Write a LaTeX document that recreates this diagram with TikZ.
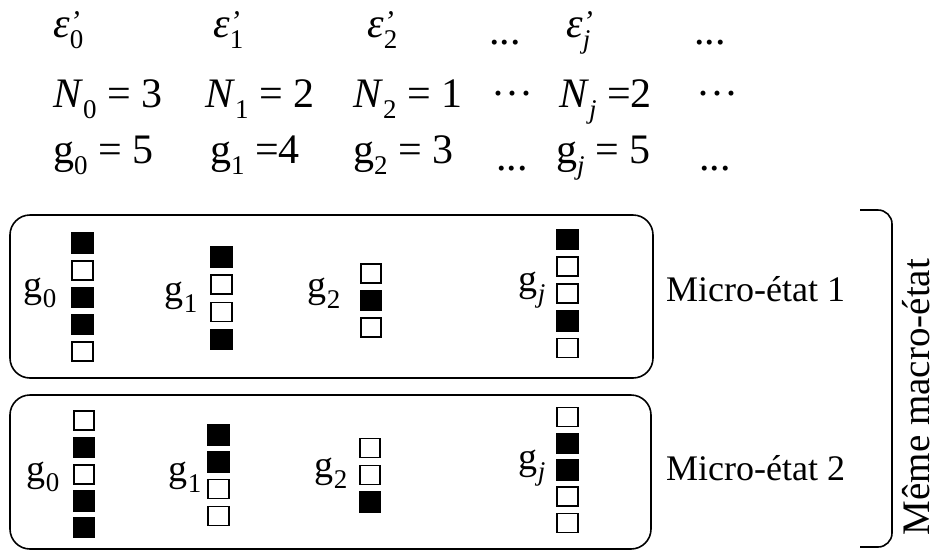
\documentclass[tikz,border=0pt]{standalone}
\usepackage{fontspec}
\setmainfont{Liberation Serif}
\newcommand\lo[1]{\raisebox{-0.28em}{\fontsize{27}{30}\selectfont #1}}
\newcommand\eps[1]{\textit{ε}\rlap{\raisebox{6pt}{\fontsize{30}{30}\selectfont\textit{’}}}\lo{#1}}
\newcommand\cellcol[5]{%
  \foreach \s [count=\i] in {#5} {%
    \ifnum\s=1 \node[cellB] (#1-\i) at (#2,{#3+#4*(\i-1)}) {};%
    \else \node[cellW] (#1-\i) at (#2,{#3+#4*(\i-1)}) {};\fi}}
\begin{document}
\begin{tikzpicture}[x=1pt,y=-1pt,
  big/.style={inner sep=0, font=\fontsize{38}{40}\selectfont},
  row/.style={inner sep=0, font=\fontsize{42}{44}\selectfont, anchor=base west},
  micro/.style={inner sep=0, font=\fontsize{36}{40}\selectfont, anchor=west},
  cellB/.style={draw=black, fill=black, line width=1.4, minimum width=21.5, minimum height=20, inner sep=0},
  cellW/.style={draw=black, fill=white, line width=1.8, minimum width=20.5, minimum height=19, inner sep=0},
  stbox/.style={draw=black, line width=1.6, rounded corners=20, inner sep=0}]
\useasboundingbox (0,0) rectangle (933,552);
% header rows
\node[row] (e0) at (53,37) {\eps{0}};
\node[row] (e1) at (213,37) {\eps{1}};
\node[row] (e2) at (367,37) {\eps{2}};
\node[row] (ed1) at (489,44) {...};
\node[row] (ej) at (566,37) {\eps{\textit{j}}};
\node[row] (ed2) at (694,44) {...};
\node[row] (n0) at (53,107) {\textit{N}\lo{0} = 3};
\node[row] (n1) at (205,107) {\textit{N}\lo{1} = 2};
\node[row] (n2) at (353,107) {\textit{N}\lo{2} = 1};
\node[row] (nd1) at (491,107) {···};
\node[row] (nj) at (559,107) {\textit{N}\lo{\textit{j}} =2};
\node[row] (nd2) at (696,107) {···};
\node[row] (g0) at (53,163) {g\lo{0} = 5};
\node[row] (g1) at (210,163) {g\lo{1} =4};
\node[row] (g2) at (353,163) {g\lo{2} = 3};
\node[row] (gd1) at (496,170) {...};
\node[row] (gj) at (556,163) {g\lo{\textit{j}} = 5};
\node[row] (gd2) at (699,170) {...};
% boxes
\node[stbox, minimum width=643, minimum height=163] (m1) at (331.5,296.5) {};
\node[stbox, minimum width=641, minimum height=154] (m2) at (330.5,472) {};
% micro-state 1
\node[big] (a0) at (40,293) {g\lo{0}};
\node[big] (a1) at (181,297) {g\lo{1}};
\node[big] (a2) at (324,293) {g\lo{2}};
\node[big] (aj) at (532,290) {g\lo{\textit{j}}};
\cellcol{p0}{82.5}{243}{27.2}{1,0,1,1,0}
\cellcol{p1}{221.5}{257}{27.5}{1,0,0,1}
\cellcol{p2}{371}{273.5}{27}{0,1,0}
\cellcol{pj}{567.5}{239.5}{27.1}{1,0,0,1,0}
\node[micro] (t1) at (666,289) {Micro-état 1};
% micro-state 2
\node[big] (b0) at (43,477) {g\lo{0}};
\node[big] (b1) at (185,477) {g\lo{1}};
\node[big] (b2) at (331,473) {g\lo{2}};
\node[big] (bj) at (532,468) {g\lo{\textit{j}}};
\cellcol{q0}{84}{420.5}{26.8}{0,1,0,1,1}
\cellcol{q1}{218.5}{435}{27}{1,1,0,0}
\cellcol{q2}{370}{448}{27}{0,0,1}
\cellcol{qj}{567.5}{417}{26.5}{0,1,1,0,0}
\node[micro] (t2) at (666,468) {Micro-état 2};
% brace
\coordinate (bt) at (860,210);
\coordinate (bb) at (860,547);
\draw[line width=1.6, rounded corners=14] (bt) -- (892,210) -- (892,547) -- (bb);
\node[inner sep=0, font=\fontsize{39}{41}\selectfont, rotate=90] (mac) at (916,397) {Même macro-état};
\end{tikzpicture}
\end{document}
